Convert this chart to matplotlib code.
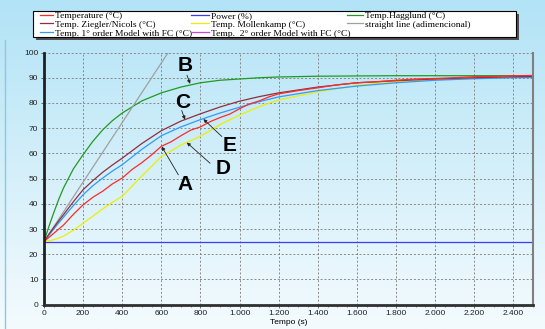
import numpy as np
import matplotlib
matplotlib.use('Agg')
import matplotlib.pyplot as plt
from matplotlib.patches import Rectangle
from matplotlib.ticker import MultipleLocator, FuncFormatter

# time axis (s) for the model curves
t = [0, 25, 50, 75, 100, 150, 200, 250, 300, 350, 400, 500, 600, 700, 800,
     900, 1000, 1100, 1200, 1400, 1600, 1800, 2000, 2200, 2400, 2500]

hagglund = [25.0, 31.0, 36.5, 41.7, 46.3, 53.8, 59.5, 64.8, 69.3, 73.0, 76.0,
            80.8, 84.0, 86.3, 88.0, 89.0, 89.5, 90.0, 90.3, 90.6, 90.7, 90.8,
            90.8, 90.8, 90.8, 90.8]
ziegler = [25.0, 27.9, 30.6, 33.2, 35.7, 40.8, 45.6, 49.2, 52.5, 55.4, 58.1,
           63.9, 69.0, 72.8, 75.7, 78.4, 80.7, 82.5, 84.0, 86.3, 88.0, 88.8,
           89.5, 90.0, 90.4, 90.5]
first_order = [25.0, 27.5, 30.0, 32.4, 34.7, 39.3, 43.6, 47.2, 50.2, 53.0, 55.5,
               61.6, 67.0, 70.5, 73.4, 76.0, 78.3, 80.5, 82.4, 84.9, 86.7, 88.0,
               89.0, 89.6, 90.0, 90.1]
mollenkamp = [25.0, 25.3, 25.8, 26.4, 27.2, 29.5, 32.3, 35.1, 38.0, 40.6, 43.0,
              51.0, 58.7, 63.3, 66.8, 71.4, 75.2, 78.5, 81.2, 84.4, 87.0, 88.4,
              89.3, 89.9, 90.3, 90.5]

# measured temperature (noisy)
t_meas = [0, 50, 100, 150, 200, 250, 300, 350, 400, 450, 500, 550, 600, 650,
          700, 750, 800, 850, 900, 950, 1000, 1050, 1100, 1150, 1200, 1300,
          1400, 1500, 1600, 1700, 1800, 1900, 2000, 2100, 2200, 2300, 2400, 2500]
temperature = [25.0, 28.3, 31.6, 35.8, 39.6, 42.6, 45.0, 47.9, 50.2, 53.6, 56.3,
               59.4, 62.8, 64.6, 67.0, 69.2, 70.5, 72.6, 74.2, 75.6, 77.7, 79.6,
               80.8, 82.4, 83.6, 84.9, 86.0, 87.2, 88.0, 88.4, 89.0, 89.5, 89.7,
               90.0, 90.4, 90.5, 90.8, 90.9]

power_t = [0, 2500]
power = [25, 25]

line_t = [0, 635]
straight = [25, 100]

# annotation labels: text, text position, arrow tail, arrow tip
labels = [('B', (721, 94.7), (731, 91.0), (747, 87.6)),
          ('C', (709, 80.3), (704, 77.0), (721, 73.4)),
          ('E', (950, 63.0), (909, 66.7), (815, 73.6)),
          ('D', (915, 54.0), (849, 56.1), (730, 64.3)),
          ('A', (721, 47.5), (687, 51.5), (602, 62.7))]

fig = plt.figure(figsize=(5.45, 3.29), dpi=100)

# background gradient
bg = fig.add_axes([0, 0, 1, 1], zorder=-10)
top = np.array([178, 227, 246]) / 255.
bot = np.array([244, 251, 254]) / 255.
frac = np.linspace(0, 1, 256)[:, None]
grad = top[None, :] * (1 - frac) + bot[None, :] * frac
bg.imshow(grad[:, None, :], aspect='auto', extent=[0, 1, 0, 1])
bg.plot([0.009, 0.009], [0, 0.878], color='#8cc8e0', lw=1)
bg.set_xlim(0, 1)
bg.set_ylim(0, 1)
bg.set_axis_off()

ax = fig.add_axes([0.0807, 0.0739, 0.8973, 0.7665])
ax.set_facecolor('none')

ax.plot(power_t, power, color='#3a3aff', lw=0.9, label='Power (%)')
ax.plot(t, hagglund, color='#229922', lw=0.9, label='Temp.Hagglund (°C)')
ax.plot(line_t, straight, color='#a0a0a0', lw=0.9, label='straight line (adimencional)')
ax.plot(t, mollenkamp, color='#eeee00', lw=0.9, label='Temp. Mollenkamp (°C)')
ax.plot(t, first_order, color='#3399ff', lw=0.9, label='Temp. 1° order Model with FC (°C)')
ax.plot(t, ziegler, color='#8e2f3f', lw=0.9, label='Temp. Ziegler/Nicols (°C)')
ax.plot([], [], color='#cc44dd', lw=0.9, label='Temp.  2° order Model with FC (°C)')
ax.plot(t_meas, temperature, color='#ff2a2a', lw=0.9, label='Temperature (°C)')

for txt, pos, tail, tip in labels:
    ax.text(pos[0], pos[1], txt, fontsize=15, fontweight='bold',
            family='Liberation Sans', ha='center', va='center')
    ax.annotate('', xy=tip, xytext=tail,
                arrowprops=dict(arrowstyle='-|>', color='#222222', lw=0.6,
                                mutation_scale=5, shrinkA=0, shrinkB=0))

ax.set_xlim(0, 2500)
ax.set_ylim(0, 100)
ax.xaxis.set_major_locator(MultipleLocator(200))
ax.xaxis.set_minor_locator(MultipleLocator(50))
ax.yaxis.set_major_locator(MultipleLocator(10))
ax.xaxis.set_major_formatter(FuncFormatter(lambda v, p: f'{int(v):,}'.replace(',', '.')))
ax.grid(True, color='#888888', ls=(0, (2, 2)), lw=0.7)
ax.tick_params(labelsize=6, length=2, width=0.6, color='#555555', pad=2)
ax.tick_params(which='minor', length=1.5, width=0.5, color='#555555')
for lab in ax.get_xticklabels() + ax.get_yticklabels():
    lab.set_family('Liberation Sans')
    lab.set_color('#222222')

ax.spines['top'].set_visible(False)
ax.spines['left'].set_linewidth(2)
ax.spines['left'].set_color('#202020')
ax.spines['bottom'].set_linewidth(2)
ax.spines['bottom'].set_color('#303030')
ax.spines['right'].set_linewidth(1.5)
ax.spines['right'].set_color('#808080')

ax.set_xlabel('Tempo (s)', fontsize=6, family='Liberation Sans', labelpad=1)

# legend box with shadow
W, H = 545., 329.
x0, y0, x1, y1 = 33, 11, 516, 37
fig.patches.append(Rectangle(((x0 + 3) / W, 1 - (y1 + 3) / H), (x1 - x0) / W, (y1 - y0) / H,
                             transform=fig.transFigure, facecolor='#505050',
                             edgecolor='none', zorder=1))
fig.patches.append(Rectangle((x0 / W, 1 - y1 / H), (x1 - x0) / W, (y1 - y0) / H,
                             transform=fig.transFigure, facecolor='white',
                             edgecolor='black', lw=0.8, zorder=2))

handles, names = ax.get_legend_handles_labels()
hmap = dict(zip(names, handles))
columns = [(['Temperature (°C)', 'Temp. Ziegler/Nicols (°C)',
             'Temp. 1° order Model with FC (°C)'], 40, 1.4),
           (['Power (%)', 'Temp. Mollenkamp (°C)',
             'Temp.  2° order Model with FC (°C)'], 191, 1.9),
           (['Temp.Hagglund (°C)', 'straight line (adimencional)'], 347, 1.7)]
for names_col, xpx, hl in columns:
    leg = fig.legend([hmap[n] for n in names_col], names_col, loc='upper left',
                     bbox_to_anchor=(xpx / W, 1 - 11.3 / H), frameon=False,
                     prop={'family': 'Liberation Serif', 'size': 6.8},
                     handlelength=hl, handletextpad=0.2, labelspacing=0.02,
                     borderpad=0, borderaxespad=0)
    leg.set_zorder(5)

fig.savefig('out.png', dpi=100)
